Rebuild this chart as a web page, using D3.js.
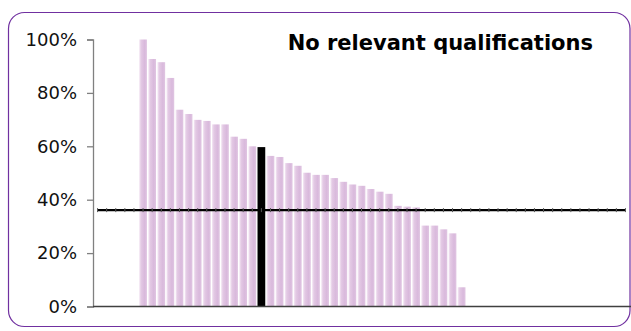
<!DOCTYPE html>
<html lang="en">

<head>
  <meta charset="UTF-8" />
  <title>No relevant qualifications</title>
  <script src="https://d3js.org/d3.v7.min.js"></script>
  <style>
    *,
    :before,
    :after {
      margin: 0;
      padding: 0;
      box-sizing: border-box;
    }

    body {
      background: #fff;
      overflow: hidden;
    }

    svg text {
      font-family: "DejaVu Sans", Verdana, sans-serif;
    }
  </style>
</head>

<body>
  <script>
    // bar values (share, %), sorted high to low
    const values = [100, 92.7, 91.5, 85.6, 73.7, 72.1, 69.9, 69.5, 68.2, 68.2, 63.6, 62.8, 60.0, 59.7,
      56.4, 56.0, 53.7, 52.7, 50.1, 49.3, 49.3, 48.1, 46.7, 45.7, 45.2, 44.0, 43.0, 42.2,
      37.7, 37.4, 37.1, 30.3, 30.3, 28.9, 27.4, 7.2];
    const highlightIndex = 13;          // the black bar
    const average = 36.1;               // horizontal reference line
    const emptyBefore = 5;              // empty category slots before the bars
    const slotCount = 59;               // all category slots on the x axis
    const yTicks = [0, 20, 40, 60, 80, 100];
    const title = 'No relevant qualifications';

    //constants
    const [w, h] = [631, 331];
    const [plotL, plotR, plotT, plotB] = [93, 630, 39.5, 306.5];

    const slots = d3.range(slotCount);
    const bars = values.map((v, i) => ({ slot: i + emptyBefore, value: v, hi: i === highlightIndex }));

    let svg = d3.select('body')
      .append('svg')
      .attr('width', w)
      .attr('height', h);

    // gradient for the bars
    const defs = svg.append('defs');
    const grad = defs.append('linearGradient')
      .attr('id', 'barGrad')
      .attr('x1', '0').attr('x2', '1').attr('y1', '0').attr('y2', '0');
    grad.append('stop').attr('offset', '0').attr('stop-color', '#f4e8f4');
    grad.append('stop').attr('offset', '0.25').attr('stop-color', '#e3c9e4');
    grad.append('stop').attr('offset', '0.7').attr('stop-color', '#d9b9dc');
    grad.append('stop').attr('offset', '1').attr('stop-color', '#e0c6e2');

    // frame
    svg.append('rect')
      .attr('x', 8.5)
      .attr('y', 12.5)
      .attr('width', 621.5)
      .attr('height', 314)
      .attr('rx', 16)
      .attr('fill', 'none')
      .attr('stroke', '#7030a0')
      .attr('stroke-width', 1.2);

    //scales
    const xScale = d3.scaleBand()
      .domain(slots)
      .range([plotL, plotR])
      .paddingInner(0.15)
      .paddingOuter(0.075);

    const yScale = d3.scaleLinear()
      .domain([0, 100])
      .range([plotB, plotT]);

    //bars
    svg.append('g')
      .selectAll('rect')
      .data(bars)
      .join('rect')
      .attr('x', d => xScale(d.slot))
      .attr('y', d => yScale(d.value))
      .attr('width', xScale.bandwidth())
      .attr('height', d => yScale(0) - yScale(d.value))
      .attr('fill', d => d.hi ? '#000' : 'url(#barGrad)');

    //y axis
    const yAxis = d3.axisLeft(yScale)
      .tickValues(yTicks)
      .tickFormat(d => d + '%')
      .tickSize(6)
      .tickPadding(10);

    const yg = svg.append('g')
      .attr('transform', `translate(${plotL}, 0)`)
      .call(yAxis);
    yg.select('.domain').attr('stroke', '#808080').attr('stroke-width', 1.3);
    yg.selectAll('.tick line').attr('stroke', '#808080').attr('stroke-width', 1.3);
    yg.selectAll('.tick text')
      .attr('fill', '#111')
      .style('font-size', '18px');

    //x axis line
    svg.append('line')
      .attr('x1', plotL)
      .attr('x2', w)
      .attr('y1', plotB)
      .attr('y2', plotB)
      .attr('stroke', '#404040')
      .attr('stroke-width', 1.5);

    //reference line across all slots
    const line = d3.line()
      .x(d => xScale(d) + xScale.bandwidth() / 2)
      .y(() => yScale(average));

    svg.append('path')
      .datum(slots)
      .attr('d', line)
      .attr('fill', 'none')
      .attr('stroke', '#000')
      .attr('stroke-width', 2.2);

    svg.append('g')
      .selectAll('rect')
      .data(slots)
      .join('rect')
      .attr('x', d => xScale(d) + xScale.bandwidth() / 2 - 0.5)
      .attr('y', yScale(average) - 2)
      .attr('width', 1)
      .attr('height', 4)
      .attr('fill', '#555');

    //title
    svg.append('text')
      .attr('x', 593)
      .attr('y', 50)
      .attr('text-anchor', 'end')
      .style('font-size', '21px')
      .style('font-weight', 'bold')
      .text(title);
  </script>
</body>

</html>
